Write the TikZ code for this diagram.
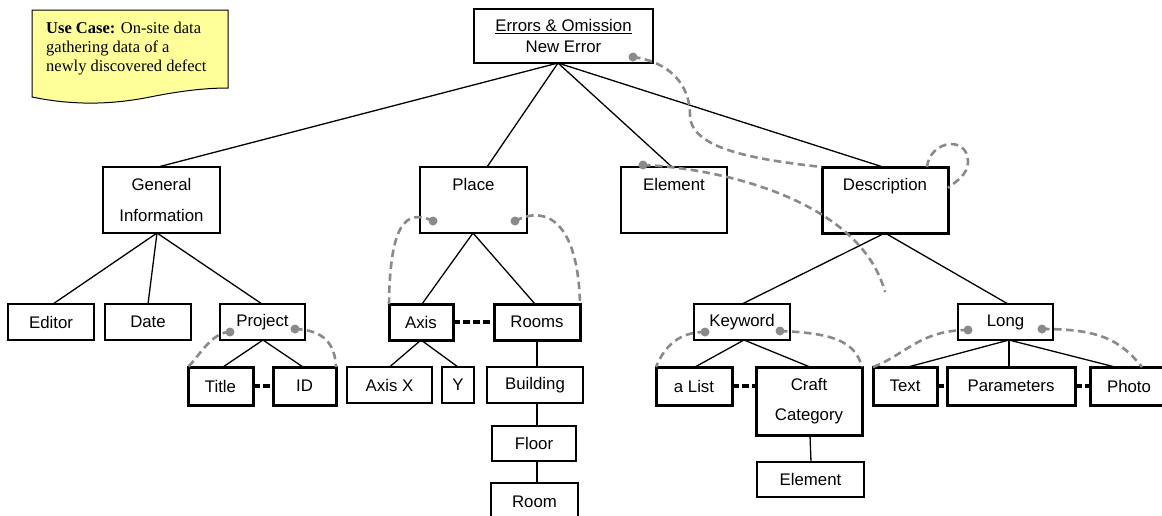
\documentclass[tikz,border=0pt]{standalone}
\usepackage{fontspec}
\setmainfont{Liberation Sans}
\newfontfamily\notefont{Liberation Serif}
\definecolor{assocgray}{RGB}{138,138,138}
\definecolor{notefill}{RGB}{255,255,153}
\begin{document}
\begin{tikzpicture}[x=1pt,y=-1pt,
  box/.style={draw, line width=1.3pt, fill=white, inner sep=0pt, outer sep=0pt,
    align=center, font=\fontsize{16.8}{31}\selectfont},
  keybox/.style={box, line width=3pt},
  link/.style={line width=1.3pt},
  pair/.style={line width=3.5pt, dash pattern=on 7pt off 3pt},
  assoc/.style={draw=assocgray, line width=2.6pt, dash pattern=on 7.5pt off 4.5pt},
  dot/.style={fill=assocgray, circle, inner sep=0pt, minimum size=9pt}
]
\useasboundingbox (0,0) rectangle (1162,515);

% use-case note with a wavy lower edge
\draw[line width=1pt, fill=notefill] (32,10) -- (228,10) -- (228,88)
  .. controls (205,88) and (180,91) .. (150,97)
  .. controls (120,103) and (80,107) .. (32,97) -- cycle;
\node[anchor=north west, inner sep=0pt, align=left,
  font=\notefont\fontsize{16.5}{19}\selectfont] (note) at (46,22)
  {\textbf{Use Case:} On-site data\\gathering data of a\\newly discovered defect};

% tree nodes
\node[box, minimum width=179pt, minimum height=54pt, font=\fontsize{16.8}{21}\selectfont]
  (root) at (563.5,36) {\underline{Errors \& Omission}\\New Error};

\node[box, minimum width=117pt, minimum height=66pt] (gi) at (161.5,200) {General\\Information};
\node[box, minimum width=107pt, minimum height=66pt] (place) at (473.5,200) {Place\\\mbox{}};
\node[box, minimum width=106pt, minimum height=66pt] (elem) at (674,200) {Element\\\mbox{}};
\node[keybox, minimum width=126pt, minimum height=66pt] (desc) at (885,200) {Description\\\mbox{}};

\node[box, minimum width=86pt, minimum height=36pt] (editor) at (51,322) {Editor};
\node[box, minimum width=86pt, minimum height=36pt] (date) at (148,322) {Date};
\node[box, minimum width=85pt, minimum height=36pt] (project) at (262.5,322) {Project};
\node[keybox, minimum width=65pt, minimum height=38pt] (title) at (220.5,386) {Title};
\node[keybox, minimum width=63pt, minimum height=38pt] (id) at (304.5,386) {ID};

\node[keybox, minimum width=64pt, minimum height=36pt] (axis) at (421,322) {Axis};
\node[keybox, minimum width=86pt, minimum height=36pt] (rooms) at (537,322) {Rooms};
\node[box, minimum width=85pt, minimum height=36pt] (axisx) at (389.5,385) {Axis X};
\node[box, minimum width=32pt, minimum height=36pt] (axisy) at (458,385) {Y};
\node[box, minimum width=96pt, minimum height=36pt] (building) at (535,385) {Building};
\node[box, minimum width=84pt, minimum height=35pt] (floor) at (534,443.5) {Floor};
\node[box, minimum width=87pt, minimum height=38pt] (room) at (534.5,502) {Room};

\node[box, minimum width=96pt, minimum height=36pt] (keyword) at (742,322) {Keyword};
\node[keybox, minimum width=76pt, minimum height=38pt] (alist) at (694,386) {a List};
\node[keybox, minimum width=106pt, minimum height=68pt, font=\fontsize{16.8}{30}\selectfont]
  (craft) at (809,401) {Craft\\Category};
\node[box, minimum width=107pt, minimum height=35pt] (elem2) at (810.5,479.5) {Element};

\node[box, minimum width=95pt, minimum height=36pt] (long) at (1005.5,322) {Long};
\node[keybox, minimum width=64pt, minimum height=38pt] (text) at (905,386) {Text};
\node[keybox, minimum width=128pt, minimum height=38pt] (params) at (1011,386) {Parameters};
\node[keybox, minimum width=78pt, minimum height=38pt] (photo) at (1129,386) {Photo};

% hierarchy links
\draw[link] ([xshift=-5.5pt]root.south) -- ([xshift=-3.5pt]gi.north);
\draw[link] ([xshift=-5.5pt]root.south) -- ([xshift=13.5pt]place.north);
\draw[link] ([xshift=-5.5pt]root.south) -- ([xshift=-2pt]elem.north);
\draw[link] ([xshift=-5.5pt]root.south) -- ([xshift=-2pt]desc.north);

\draw[link] ([xshift=-4.5pt]gi.south) -- ([xshift=2pt]editor.north);
\draw[link] ([xshift=-4.5pt]gi.south) -- (date.north);
\draw[link] ([xshift=-4.5pt]gi.south) -- ([xshift=-0.5pt]project.north);
\draw[link] ([xshift=0.5pt]project.south) -- ([xshift=2.5pt]title.north);
\draw[link] ([xshift=0.5pt]project.south) -- ([xshift=-1.5pt]id.north);

\draw[link] ([xshift=-0.5pt]place.south) -- ([xshift=1pt]axis.north);
\draw[link] ([xshift=-0.5pt]place.south) -- ([xshift=-2pt]rooms.north);
\draw[link] (axis.south) -- (axisx.north);
\draw[link] (axis.south) -- (axisy.north);
\draw[link] (rooms.south) -- (rooms.south |- building.north);
\draw[link] (rooms.south |- building.south) -- (rooms.south |- floor.north);
\draw[link] (rooms.south |- floor.south) -- (rooms.south |- room.north);

\draw[link] (desc.south) -- (keyword.north);
\draw[link] (desc.south) -- ([xshift=2.5pt]long.north);
\draw[link] ([xshift=2pt]keyword.south) -- ([xshift=1pt]alist.north);
\draw[link] ([xshift=2pt]keyword.south) -- ([xshift=1pt]craft.north);
\draw[link] ([xshift=1pt]craft.south) -- ([xshift=0.5pt]elem2.north);
\draw[link] ([xshift=3.5pt]long.south) -- ([xshift=3pt]text.north);
\draw[link] ([xshift=3.5pt]long.south) -- ([xshift=-2pt]params.north);
\draw[link] ([xshift=3.5pt]long.south) -- ([xshift=-14pt]photo.north);

% sibling pairings
\draw[pair] (title.east) -- (id.west);
\draw[pair] (axis.east) -- (rooms.west);
\draw[pair] (alist.east) -- (alist.east -| craft.west);
\draw[pair] (text.east) -- (params.west);
\draw[pair] (params.east) -- (photo.west);

% associations
\coordinate (aroot) at (633,57);
\coordinate (aelem) at (643,165);
\coordinate (aelemend) at (885,292);
\coordinate (aplacel) at (433,221);
\coordinate (aplacer) at (515,221);
\coordinate (aprojl) at (230,332);
\coordinate (aprojr) at (295,329);
\coordinate (akeyl) at (705,332);
\coordinate (akeyr) at (780,331);
\coordinate (alongl) at (968,330);
\coordinate (alongr) at (1042,329);

\draw[assoc] (aroot) .. controls (670,62) and (690,85) .. (690,115)
  .. controls (690,150) and (760,160) .. (desc.north west);
\draw[assoc] ([xshift=42pt]desc.north) .. controls (930,140) and (968,135) .. (968,162)
  .. controls (968,175) and (955,182) .. ([yshift=12pt]desc.east);
\draw[assoc] (aelem) .. controls (720,168) and (860,200) .. (aelemend);
\draw[assoc] (aplacel) .. controls (405,208) and (390,225) .. (axis.north west);
\draw[assoc] (aplacer) .. controls (545,205) and (578,220) .. (rooms.north east);
\draw[assoc] (aprojl) .. controls (212,332) and (200,355) .. (title.north west);
\draw[assoc] (aprojr) .. controls (325,330) and (335,345) .. (id.north east);
\draw[assoc] (akeyl) .. controls (680,332) and (665,345) .. (alist.north west);
\draw[assoc] (akeyr) .. controls (830,333) and (855,340) .. (craft.north east);
\draw[assoc] (alongl) .. controls (920,330) and (905,355) .. (text.north west);
\draw[assoc] (alongr) .. controls (1100,329) and (1120,340) .. ([xshift=13pt]photo.north);

\foreach \p in {aroot,aelem,aplacel,aplacer,aprojl,aprojr,akeyl,akeyr,alongl,alongr}
  \node[dot] at (\p) {};
\end{tikzpicture}
\end{document}
